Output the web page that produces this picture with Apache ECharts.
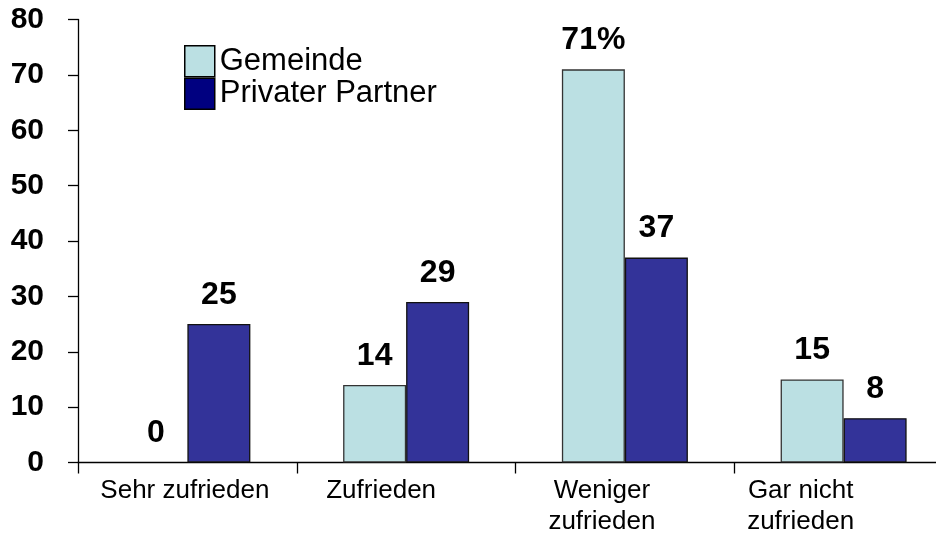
<!DOCTYPE html>
<html>
<head>
<meta charset="utf-8">
<script src="https://cdn.jsdelivr.net/npm/echarts@6/dist/echarts.min.js"></script>
<style>
html,body{margin:0;padding:0;background:#fff;}
#chart{width:936px;height:533px;}
</style>
</head>
<body>
<div id="chart"></div>
<script>
const categories = ['Sehr zufrieden', 'Zufrieden', 'Weniger\nzufrieden', 'Gar nicht\nzufrieden'];
const seriesNames = ['Gemeinde', 'Privater Partner'];
const gemeindeValues = [0, 14, 71, 15];
const privatValues = [25, 29, 37, 8];
const gemeindeLabels = ['0', '14', '71%', '15'];
const privatLabels = ['25', '29', '37', '8'];
const yTicks = [0, 10, 20, 30, 40, 50, 60, 70, 80];

const labelShift = [5, 50, 46, 86];
const font = 'Liberation Sans, Arial, sans-serif';
const rich = {};
labelShift.forEach((r, i) => {
  rich['c' + i] = {fontSize: 26, lineHeight: 31, color: '#000', fontFamily: font, padding: [0, r, 0, 0]};
});

const toData = arr => arr.map(v => v === 0 ? {value: v, itemStyle: {borderWidth: 0}} : v);

const chart = echarts.init(document.getElementById('chart'), null, {renderer: 'canvas'});
const dataLabel = {
  show: true, position: 'top', distance: 13,
  fontFamily: font, fontSize: 32, fontWeight: 'bold', color: '#000'
};
chart.setOption({
  backgroundColor: '#fff',
  animation: false,
  grid: {left: 78, width: 875, top: 19.5, bottom: 70.5, containLabel: false, outerBoundsMode: 'none'},
  legend: {
    orient: 'vertical', left: 184, top: 45, padding: 0,
    itemWidth: 30, itemHeight: 31, itemGap: 0, icon: 'rect',
    itemStyle: {borderColor: '#000', borderWidth: 1.5},
    textStyle: {fontFamily: font, fontSize: 31, color: '#000', lineHeight: 31},
    data: [
      {name: seriesNames[0], itemStyle: {color: '#BBE0E3'}},
      {name: seriesNames[1], itemStyle: {color: '#000080'}}
    ]
  },
  xAxis: {
    type: 'category',
    data: categories,
    axisLine: {show: true, lineStyle: {color: '#000', width: 1.3}},
    axisTick: {show: true, length: 11, lineStyle: {color: '#000', width: 1.3}},
    axisLabel: {
      margin: 13, interval: 0,
      formatter: (v, i) => v.split('\n').map(l => '{c' + i + '|' + l + '}').join('\n'),
      rich: rich
    },
    splitLine: {show: false}
  },
  yAxis: {
    type: 'value', min: 0, max: 80, interval: 10,
    axisLine: {show: true, lineStyle: {color: '#000', width: 1.3}},
    axisTick: {show: true, length: 10, lineStyle: {color: '#000', width: 1.3}},
    axisLabel: {
      margin: 34, fontFamily: font, fontSize: 30, fontWeight: 'bold', color: '#000',
      formatter: v => yTicks.includes(v) ? String(v) : ''
    },
    splitLine: {show: false}
  },
  series: [
    {
      name: seriesNames[0], type: 'bar', data: toData(gemeindeValues),
      barWidth: 63, barGap: '0%',
      itemStyle: {color: '#BBE0E3', borderColor: '#333', borderWidth: 1.3},
      label: Object.assign({}, dataLabel, {formatter: p => gemeindeLabels[p.dataIndex]})
    },
    {
      name: seriesNames[1], type: 'bar', data: toData(privatValues),
      barWidth: 63, barGap: '0%',
      itemStyle: {color: '#333399', borderColor: '#111', borderWidth: 1.3},
      label: Object.assign({}, dataLabel, {formatter: p => privatLabels[p.dataIndex]})
    }
  ]
});
</script>
</body>
</html>
